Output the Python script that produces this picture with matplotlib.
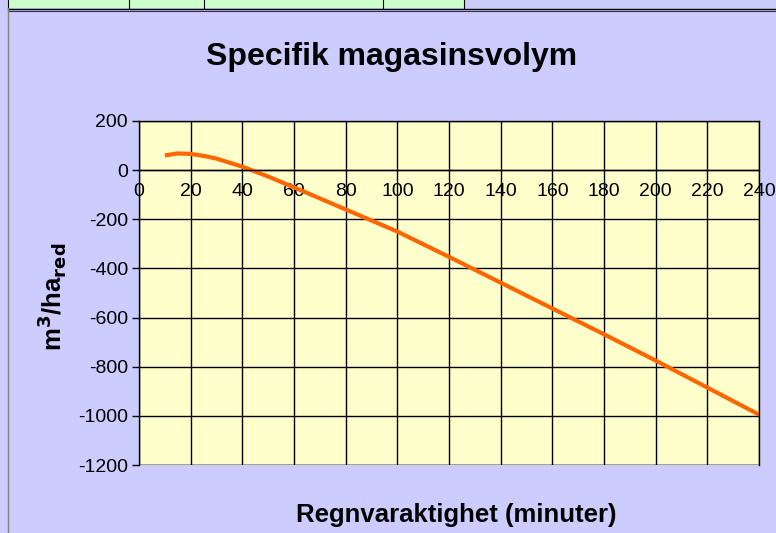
import matplotlib.pyplot as plt
from matplotlib.patches import Rectangle
from matplotlib.lines import Line2D
import numpy as np

# duration (minutes) and specific storage volume (m3/ha_red)
minutes = [10, 15, 20, 25, 30, 40, 50, 60, 70, 80, 90, 100,
           120, 140, 160, 180, 200, 220, 240]
volume = [60, 68, 66, 58, 47, 14, -26, -70, -115, -160, -205, -250,
          -353, -458, -563, -668, -775, -885, -995]

x_ticks = list(range(0, 241, 20))
y_ticks = list(range(-1200, 201, 200))

W, H = 776, 533
fig = plt.figure(figsize=(W / 100, H / 100), dpi=100)
fig.patch.set_facecolor('#CCCCFF')
plt.rcParams['font.family'] = ['Liberation Sans', 'DejaVu Sans']
plt.rcParams['axes.unicode_minus'] = False

# spreadsheet strip at the top
fig.patches.append(Rectangle((8 / W, 1 - 8 / H), (464 - 8) / W, 8 / H,
                             transform=fig.transFigure, facecolor='#CCFFCC',
                             edgecolor='none'))
for xp in [8, 129, 204, 383, 464]:
    fig.lines.append(Line2D([xp / W, xp / W], [1 - 8 / H, 1], transform=fig.transFigure,
                            color='black', lw=0.8))
fig.lines.append(Line2D([8 / W, 1], [1 - 8.5 / H] * 2, transform=fig.transFigure,
                        color='black', lw=1.0))
fig.lines.append(Line2D([8 / W, 1], [1 - 10.5 / H] * 2, transform=fig.transFigure,
                        color='#333333', lw=0.8))
fig.lines.append(Line2D([8 / W, 8 / W], [0, 1 - 8 / H], transform=fig.transFigure,
                        color='#808080', lw=1.0))

ax = fig.add_axes([139 / W, 1 - 465 / H, (759 - 139) / W, (465 - 121) / H])
ax.set_facecolor('#FFFFCC')
ax.plot(minutes, volume, color='#FF6600', lw=3.0, solid_capstyle='butt')

ax.set_xlim(0, 240)
ax.set_ylim(-1200, 200)
ax.set_xticks(x_ticks)
ax.set_yticks(y_ticks)
ax.grid(True, color='black', lw=1.0)
ax.set_axisbelow(True)

for s in ['top', 'right', 'left']:
    ax.spines[s].set_color('black')
    ax.spines[s].set_linewidth(1.0)
ax.spines['bottom'].set_position(('data', 0))
ax.spines['bottom'].set_linewidth(1.0)
ax.tick_params(axis='x', length=0, pad=9, labelsize=14)
ax.tick_params(axis='y', length=5, width=1, labelsize=14, pad=3)

# bottom edge of plot area (the x axis spine moved to zero)
ax.axhline(-1200, color='black', lw=1.0)

fig.text(392 / W, 1 - 57 / H, 'Specifik magasinsvolym', ha='center', va='center',
         fontsize=23, fontweight='bold')
fig.text(456 / W, 1 - 515 / H, 'Regnvaraktighet (minuter)', ha='center', va='center',
         fontsize=18.5, fontweight='bold')
fig.text(52 / W, 1 - 297 / H, r'm$^\mathbf{3}$/ha$_\mathbf{red}$', ha='center',
         va='center', rotation=90, fontsize=18.5, fontweight='bold')

fig.savefig('out.png', dpi=100, facecolor=fig.get_facecolor())
